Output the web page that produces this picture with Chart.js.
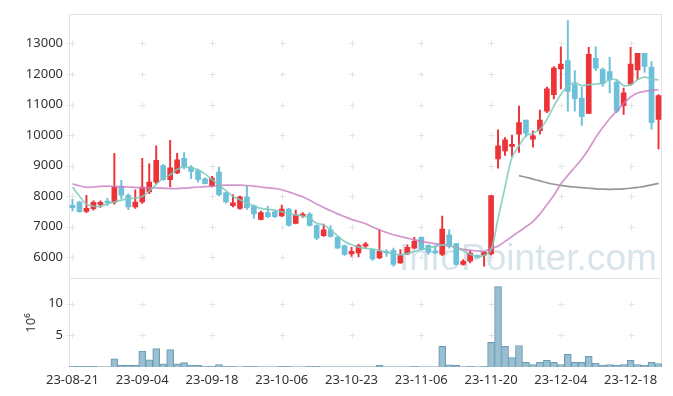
<!DOCTYPE html>
<html>
<head>
<meta charset="utf-8">
<script src="https://cdn.jsdelivr.net/npm/chart.js@4.4.1/dist/chart.umd.min.js"></script>
<style>
  html, body { margin: 0; padding: 0; background: #fff; }
</style>
</head>
<body>
<canvas id="chart" width="673" height="396"></canvas>
<script>
const dates = [
  "23-08-21","23-08-22","23-08-23","23-08-24","23-08-25","23-08-28","23-08-29","23-08-30","23-08-31","23-09-01",
  "23-09-04","23-09-05","23-09-06","23-09-07","23-09-08","23-09-11","23-09-12","23-09-13","23-09-14","23-09-15",
  "23-09-18","23-09-19","23-09-20","23-09-21","23-09-22","23-09-25","23-09-26","23-09-27","23-10-04","23-10-05",
  "23-10-06","23-10-10","23-10-11","23-10-12","23-10-13","23-10-16","23-10-17","23-10-18","23-10-19","23-10-20",
  "23-10-23","23-10-24","23-10-25","23-10-26","23-10-27","23-10-30","23-10-31","23-11-01","23-11-02","23-11-03",
  "23-11-06","23-11-07","23-11-08","23-11-09","23-11-10","23-11-13","23-11-14","23-11-15","23-11-16","23-11-17",
  "23-11-20","23-11-21","23-11-22","23-11-23","23-11-24","23-11-27","23-11-28","23-11-29","23-11-30","23-12-01",
  "23-12-04","23-12-05","23-12-06","23-12-07","23-12-08","23-12-11","23-12-12","23-12-13","23-12-14","23-12-15",
  "23-12-18","23-12-19","23-12-20","23-12-21","23-12-22"
];

const openP = [
  7700, 7810, 7500, 7590, 7720, 7840, 7800, 8320, 8030, 7650,
  7810, 8140, 8460, 9000, 8540, 8760, 9240, 8950, 8840, 8570,
  8330, 8790, 8110, 7690, 7600, 7975, 7685, 7240, 7460, 7490,
  7350, 7580, 7110, 7360, 7415, 7040, 6710, 6900, 6650, 6380,
  6110, 6140, 6360, 6250, 5980, 6195, 6225, 5815, 6110, 6300,
  6650, 6390, 6195, 6090, 6735, 6445, 5765, 5870, 6065, 6065,
  6110, 9220, 9480, 9630, 10030, 10490, 9865, 10140, 10785, 11325,
  12165, 12440, 11650, 11215, 10710, 12510, 12155, 12080, 11735, 10965,
  11670, 12135, 12675, 12220, 10515
];
const highP = [
  7900, 7830, 8030, 7850, 7850, 7930, 9400, 8520, 8080, 8210,
  9240, 9060, 9650, 9040, 9830, 9400, 9430, 9000, 8890, 8600,
  8650, 8950, 8130, 8050, 8000, 8320, 7710, 7510, 7670, 7550,
  7710, 7600, 7545, 7460, 7460, 7060, 7090, 7040, 6680, 6400,
  6325, 6430, 6490, 6270, 6900, 6250, 6300, 6250, 6410, 6650,
  6670, 6410, 6355, 7350, 6900, 6460, 5925, 6220, 6080, 6195,
  8020, 10170, 9920, 10000, 10950, 10490, 10140, 10820, 11575, 12245,
  12890, 13750, 12110, 11575, 12870, 12890, 12190, 12545, 11810, 11540,
  12870, 12675, 12675, 12405, 11325
];
const lowP = [
  7520, 7480, 7460, 7545, 7630, 7700, 7740, 7920, 7560, 7600,
  7760, 8080, 8410, 8520, 8300, 8735, 8890, 8570, 8460, 8400,
  8300, 8010, 7780, 7650, 7570, 7565, 7275, 7220, 7300, 7300,
  7330, 7020, 7090, 7305, 7020, 6575, 6680, 6660, 6290, 6060,
  6030, 6010, 6300, 5900, 5955, 6030, 5710, 5795, 6085, 6270,
  6250, 6090, 6120, 6050, 6300, 5750, 5740, 5815, 5980, 5710,
  6080, 8920, 9330, 9305, 9435, 9950, 9600, 10030, 10730, 11185,
  11510, 10785, 10785, 10320, 10700, 12110, 11595, 11380, 10730, 10675,
  11625, 11810, 12050, 10190, 9545
];
const closeP = [
  7620, 7490, 7600, 7800, 7800, 7790, 8300, 8030, 7650, 7810,
  8300, 8460, 9170, 8540, 8930, 9190, 8970, 8810, 8540, 8410,
  8590, 8050, 7810, 7780, 7975, 7620, 7415, 7460, 7330, 7330,
  7580, 7040, 7380, 7415, 7040, 6625, 6900, 6680, 6300, 6090,
  6195, 6380, 6430, 5945, 6195, 6140, 5765, 6055, 6325, 6520,
  6270, 6160, 6140, 6920, 6355, 5765, 5870, 6140, 6000, 6160,
  8020, 9650, 9845, 9695, 10405, 10060, 9975, 10490, 11510, 12190,
  12320, 11430, 11195, 10600, 12640, 12190, 11680, 11810, 10785, 11380,
  12320, 12675, 12245, 10405, 11290
];

// moving average lines
const ma5 = [
  8300, 8000, 7740, 7670, 7670, 7750, 7810, 7870, 7920, 7940,
  7990, 8170, 8380, 8600, 8700, 8880, 8960, 8930, 8860, 8730,
  8540, 8370, 8180, 8000, 7880, 7780, 7680, 7600, 7570, 7545,
  7490, 7435, 7383, 7351, 7273, 7111, 7058, 6897, 6703, 6518,
  6411, 6334, 6290, 6270, 6227, 6162, 6119, 6087, 6119, 6194,
  6249, 6302, 6356, 6400, 6390, 6300, 6210, 6100, 6030, 6060,
  6250, 7270, 8300, 9270, 9650, 9975, 10060, 10190, 10514, 10947,
  11330, 11600, 11720, 11620, 11650, 11670, 11700, 11810, 11810, 11620,
  11650, 11810, 11900, 11830, 11810
];
const ma20 = [
  8400, 8340, 8290, 8300, 8320, 8330, 8320, 8310, 8300, 8290,
  8270, 8270, 8270, 8260, 8250, 8250, 8260, 8280, 8300, 8310,
  8330, 8350, 8360, 8360, 8360, 8350, 8330, 8300, 8270, 8250,
  8210, 8140, 8060, 7980, 7870, 7740, 7630, 7520, 7420, 7330,
  7240, 7170, 7100, 6990, 6900, 6810, 6735, 6680, 6625, 6570,
  6520, 6480, 6445, 6410, 6380, 6310, 6260, 6230, 6210, 6190,
  6290, 6360, 6520, 6680, 6840, 7000, 7170, 7420, 7720, 8030,
  8400, 8680, 8948, 9218, 9543, 9920, 10244, 10536, 10785, 11032,
  11248, 11378, 11432, 11465, 11486
];
const ma60 = [
  null, null, null, null, null, null, null, null, null, null,
  null, null, null, null, null, null, null, null, null, null,
  null, null, null, null, null, null, null, null, null, null,
  null, null, null, null, null, null, null, null, null, null,
  null, null, null, null, null, null, null, null, null, null,
  null, null, null, null, null, null, null, null, null, null,
  null, null, null, null, 8670, 8620, 8560, 8500, 8440, 8390,
  8355, 8320, 8300, 8280, 8260, 8240, 8230, 8225, 8230, 8240,
  8260, 8290, 8320, 8370, 8420
];

// volume in millions
const volume = [
  0.1, 0.1, 0.1, 0.1, 0.02, 0.02, 1.3, 0.25, 0.25, 0.25,
  2.5, 1.15, 2.9, 0.5, 2.75, 0.5, 0.7, 0.27, 0.27, 0.15,
  0.15, 0.4, 0.1, 0.1, 0.02, 0.1, 0.1, 0.02, 0.02, 0.02,
  0.1, 0.1, 0.02, 0.02, 0.1, 0.1, 0.02, 0.02, 0.02, 0.02,
  0.02, 0.02, 0.02, 0.02, 0.25, 0.02, 0.02, 0.02, 0.02, 0.1,
  0.02, 0.02, 0.02, 3.25, 0.35, 0.25, 0.02, 0.1, 0.02, 0.1,
  3.9, 12.7, 3.25, 1.5, 3.4, 0.75, 0.4, 0.75, 1.05, 0.75,
  0.4, 2.0, 0.75, 0.75, 1.7, 0.6, 0.27, 0.4, 0.27, 0.4,
  1.05, 0.4, 0.27, 0.75, 0.55
];

const priceTicks = [6000, 7000, 8000, 9000, 10000, 11000, 12000, 13000];
const volumeTicks = [5, 10];
const labelEvery = 10;

const UP = "#ec3338";
const DOWN = "#6cc0d9";
const candleColors = openP.map((o, i) => closeP[i] >= o ? UP : DOWN);

Chart.defaults.font.family = '"Noto Sans", sans-serif';
Chart.defaults.font.size = 13;
Chart.defaults.color = "#333";

const decor = {
  id: "decor",
  beforeDatasetsDraw(chart) {
    const { ctx, chartArea: a, scales } = chart;
    const x = scales.x, y = scales.y, vol = scales.vol;
    ctx.save();

    // watermark
    const text = "InfoPointer.com";
    ctx.font = '36px "Liberation Sans", sans-serif';
    const size = 36 * 258 / ctx.measureText(text).width;
    ctx.font = size + 'px "Liberation Sans", sans-serif';
    ctx.fillStyle = "rgba(182, 206, 221, 0.55)";
    ctx.textBaseline = "alphabetic";
    ctx.fillText(text, 399, 270);

    // frame and panel separator
    ctx.strokeStyle = "#e4e4e4";
    ctx.lineWidth = 1;
    ctx.strokeRect(Math.round(a.left) + 0.5, Math.round(a.top) + 0.5,
      Math.round(a.width) - 1, Math.round(a.height) - 1);
    const sep = Math.round(y.bottom) - 0.5;
    ctx.beginPath();
    ctx.moveTo(a.left, sep);
    ctx.lineTo(a.right, sep);
    ctx.stroke();

    // small crosses at grid intersections
    const ys = y.ticks.map(t => y.getPixelForValue(t.value))
      .concat(vol.ticks.map(t => vol.getPixelForValue(t.value)));
    const xs = [a.left];
    dates.forEach((d, i) => { if (i % labelEvery === 0) xs.push(x.getPixelForValue(i)); });
    ctx.strokeStyle = "#e3e3e3";
    ctx.beginPath();
    xs.forEach(px => {
      ys.forEach(py => {
        const cx = Math.round(px) + 0.5, cy = Math.round(py) + 0.5;
        ctx.moveTo(cx - 3, cy); ctx.lineTo(cx + 3, cy);
        ctx.moveTo(cx, cy - 3); ctx.lineTo(cx, cy + 3);
      });
    });
    ctx.stroke();
    ctx.restore();
  }
};

new Chart(document.getElementById("chart"), {
  type: "bar",
  data: {
    labels: dates,
    datasets: [
      {
        type: "line", label: "MA5", data: ma5, yAxisID: "y",
        borderColor: "rgba(125, 202, 190, 0.85)", borderWidth: 1.7,
        pointRadius: 0, tension: 0.35, order: 0
      },
      {
        type: "line", label: "MA20", data: ma20, yAxisID: "y",
        borderColor: "rgba(200, 125, 190, 0.8)", borderWidth: 1.7,
        pointRadius: 0, tension: 0.35, order: 0
      },
      {
        type: "line", label: "MA60", data: ma60, yAxisID: "y",
        borderColor: "rgba(125, 125, 125, 0.8)", borderWidth: 1.7,
        pointRadius: 0, tension: 0.35, order: 0
      },
      {
        label: "body", data: openP.map((o, i) => [o, closeP[i]]), yAxisID: "y",
        backgroundColor: candleColors, barThickness: 5, grouped: false,
        minBarLength: 1, order: 1
      },
      {
        label: "wick", data: lowP.map((l, i) => [l, highP[i]]), yAxisID: "y",
        backgroundColor: candleColors, barThickness: 1.3, grouped: false, order: 2
      },
      {
        label: "volume", data: volume, yAxisID: "vol",
        backgroundColor: "rgba(148, 188, 206, 0.95)", borderColor: "rgba(108, 155, 180, 1)",
        borderWidth: 1, barPercentage: 1, categoryPercentage: 1, grouped: false, order: 3
      }
    ]
  },
  options: {
    responsive: false,
    animation: false,
    devicePixelRatio: 1,
    layout: { padding: { left: 19, right: 11, top: 10, bottom: 3 } },
    plugins: { legend: { display: false }, tooltip: { enabled: false } },
    scales: {
      x: {
        offset: true,
        grid: { display: false, drawTicks: false },
        border: { display: false },
        ticks: {
          autoSkip: false, maxRotation: 0, padding: 5,
          callback: (v, i) => (i % labelEvery === 0 ? dates[i] : "")
        },
        afterFit: s => { s.height = 26; }
      },
      y: {
        stack: "panels", stackWeight: 268, weight: 1,
        min: 5290, max: 13970,
        grid: { display: false, drawTicks: false },
        border: { display: false },
        ticks: { padding: 6, callback: v => String(v) },
        afterBuildTicks: s => { s.ticks = priceTicks.map(v => ({ value: v })); },
        afterFit: s => { s.width = 50; }
      },
      vol: {
        type: "linear", position: "left",
        stack: "panels", stackWeight: 89, weight: 0,
        min: 0, max: 13.9,
        grid: { display: false, drawTicks: false },
        border: { display: false },
        ticks: { padding: 6, callback: v => String(v) },
        title: { display: true, text: "10⁶", padding: { top: 4, bottom: 2 }, font: { size: 13 } },
        afterBuildTicks: s => { s.ticks = volumeTicks.map(v => ({ value: v })); },
        afterFit: s => { s.width = 50; }
      }
    }
  },
  plugins: [decor]
});
</script>
</body>
</html>
